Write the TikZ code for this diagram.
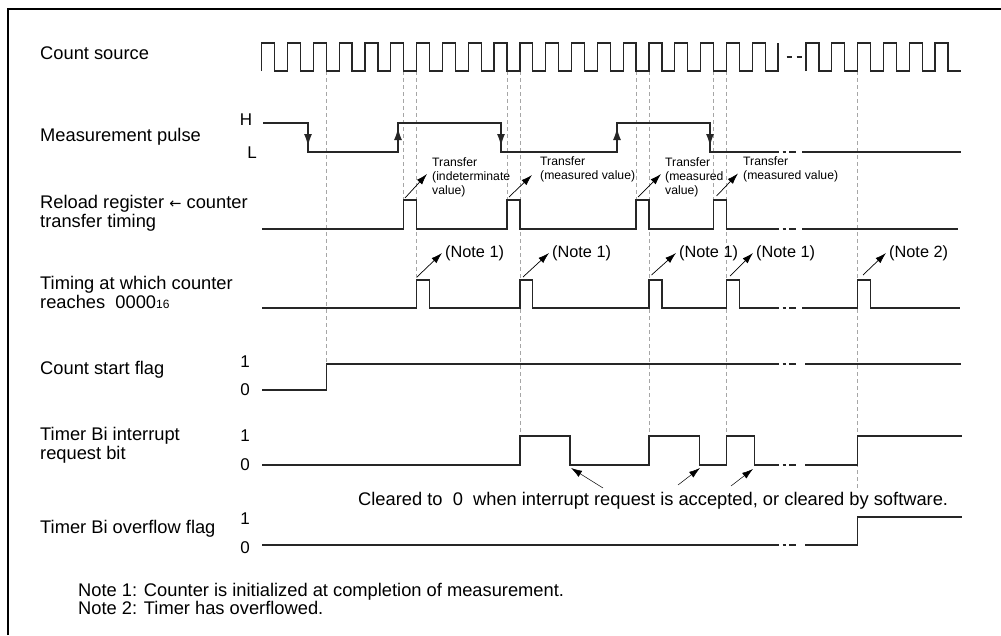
\documentclass[tikz,border=0pt]{standalone}
\usepackage{fontspec}
\setmainfont{Liberation Sans}
\newfontfamily\arrowfont{DejaVu Sans}
\usepackage{tikz}
\usetikzlibrary{arrows.meta,positioning,calc}

\begin{document}
\begin{tikzpicture}[
    x=1pt, y=-1pt,
    wave/.style={draw, line width=1.3pt, color=black!85},
    brk/.style={draw, line width=1.3pt, color=black!85, dash pattern=on 0pt off 3.5pt on 3pt off 3.5pt on 7pt off 12pt},
    guide/.style={draw, gray!70, line width=0.6pt, dash pattern=on 4pt off 3pt},
    edge/.style={draw, line width=1.3pt, color=black!85, -{Latex[length=12pt,width=8pt]}},
    line/.style={draw, line width=0.7pt, -{Latex[length=11pt,width=7pt]}},
    sig/.style={anchor=west, inner sep=0pt, align=left, font=\fontsize{18.3}{19}\selectfont},
    lvl/.style={inner sep=0pt, font=\fontsize{17}{17}\selectfont},
    tnote/.style={anchor=west, inner sep=0pt, align=left, font=\fontsize{12.2}{14}\selectfont},
    nnote/.style={anchor=west, inner sep=0pt, font=\fontsize{16.3}{16}\selectfont}
]
\useasboundingbox (0,0) rectangle (1001,635);
\draw[line width=2pt] (7.5,635) -- (7.5,9) -- (1001,9);

% signal names
\node[sig] (cs) at (40,53) {Count source};
\node[sig] (mp) at (40,137) {Measurement pulse};
\node[sig] (rr) at (40,213) {Reload register {\arrowfont\fontsize{14.5}{14.5}\selectfont ←} counter\\transfer timing};
\node[sig] (tz) at (40,292.5) {Timing at which counter\\reaches\ \ 0000{\fontsize{12}{12}\selectfont 16}};
\node[sig] (sf) at (40,370) {Count start flag};
\node[sig] (ir) at (40,445.5) {Timer Bi interrupt\\request bit};
\node[sig] (of) at (40,529) {Timer Bi overflow flag};

\node[lvl] (hi) at (246,120) {H};
\node[lvl] (lo) at (252,153) {L};
\node[lvl] (sf1) at (245,362) {1};
\node[lvl] (sf0) at (245,390) {0};
\node[lvl] (ir1) at (245,436) {1};
\node[lvl] (ir0) at (245,465) {0};
\node[lvl] (of1) at (245,519) {1};
\node[lvl] (of0) at (245,548) {0};

% timing guides
\foreach \x/\y in {326.25/364, 403.7/200, 416.6/280, 507/200, 519.9/436,
                   636.1/200, 649/436, 713.6/200, 726.5/436, 857.6/490}
    \draw[guide] (\x,71) -- (\x,\y);

% count source
\draw[wave] (261.7,71) \foreach \k in {1,...,20} {-- ++(0,-28) -- ++(12.91,0) -- ++(0,28) -- ++(12.91,0)} -- ++(0,-28);
\draw[line width=1.3pt, color=black!85, dash pattern=on 5pt off 5pt] (786.7,57) -- (801.7,57);
\draw[wave] (806,71) \foreach \k in {1,...,6} {-- ++(0,-28) -- ++(12.91,0) -- ++(0,28) -- ++(12.91,0)};

% measurement pulse
\draw[wave] (263,123) -- (308,123) -- (308,152) -- (398,152) -- (398,123) -- (501,123) -- (501,152)
    -- (617,152) -- (617,123) -- (710,123) -- (710,152) -- (779,152);
\draw[brk] (779,152) -- (802,152);
\draw[wave] (802,152) -- (961,152);
\draw[edge] (308,123) -- (308,146);
\draw[edge] (398,152) -- (398,128);
\draw[edge] (501,123) -- (501,146);
\draw[edge] (617,152) -- (617,128);
\draw[edge] (710,123) -- (710,146);

% reload register <- counter
\draw[wave] (262,229) \foreach \a/\b in {403.7/416.6, 507/519.9, 636.1/649, 713.6/726.5}
    {-- (\a,229) -- (\a,200) -- (\b,200) -- (\b,229)} -- (779,229);
\draw[brk] (779,229) -- (802,229);
\draw[wave] (802,229) -- (958,229);

% counter reaches 0000
\draw[wave] (262,308) \foreach \a/\b in {416.6/429.5, 519.9/532.8, 649/661.9, 726.5/739.4}
    {-- (\a,308) -- (\a,280) -- (\b,280) -- (\b,308)} -- (779,308);
\draw[brk] (779,308) -- (802,308);
\draw[wave] (802,308) -- (857.6,308) -- (857.6,280) -- (870.5,280) -- (870.5,308) -- (960,308);

% count start flag
\draw[wave] (262,390) -- (326.25,390) -- (326.25,364) -- (779,364);
\draw[brk] (779,364) -- (805,364);
\draw[wave] (805,364) -- (961,364);

% interrupt request bit
\draw[wave] (262,465) \foreach \a/\b in {519.9/570, 649/699.5, 726.5/754.5}
    {-- (\a,465) -- (\a,436) -- (\b,436) -- (\b,465)} -- (779,465);
\draw[brk] (779,465) -- (805,465);
\draw[wave] (805,465) -- (857.6,465) -- (857.6,436) -- (962,436);

% overflow flag
\draw[wave] (262,545) -- (779,545);
\draw[brk] (779,545) -- (805,545);
\draw[wave] (805,545) -- (857.6,545) -- (857.6,517) -- (962,517);

% transfer notes
\node[tnote] (tr1) at (432,177) {Transfer\\(indeterminate\\value)};
\node[tnote] (tr2) at (540,169) {Transfer\\(measured value)};
\node[tnote] (tr3) at (665,177) {Transfer\\(measured\\value)};
\node[tnote] (tr4) at (743,169.5) {Transfer\\(measured value)};
\coordinate (tp1) at (405,198);
\coordinate (tp2) at (509,197);
\coordinate (tp3) at (638,197);
\coordinate (tp4) at (716.5,196);
\draw[line] (tp1) -- ([xshift=-5pt,yshift=3pt]tr1.west);
\draw[line] (tp2) -- ([xshift=-8pt,yshift=-6pt]tr2.west);
\draw[line] (tp3) -- ([xshift=-4pt,yshift=3pt]tr3.west);
\draw[line] (tp4) -- ([xshift=-5pt,yshift=-4pt]tr4.west);

% zero notes
\node[nnote] (n1) at (445,253) {(Note 1)};
\node[nnote] (n2) at (552,253) {(Note 1)};
\node[nnote] (n3) at (679,253) {(Note 1)};
\node[nnote] (n4) at (756,253) {(Note 1)};
\node[nnote] (n5) at (889,253) {(Note 2)};
\coordinate (zp1) at (417,277);
\coordinate (zp2) at (523,277);
\coordinate (zp3) at (651.5,275);
\coordinate (zp4) at (730,276);
\coordinate (zp5) at (863,275);
\draw[line] (zp1) -- ([xshift=-3pt]n1.west);
\draw[line] (zp2) -- ([xshift=-3pt]n2.west);
\draw[line] (zp3) -- ([xshift=-3pt]n3.west);
\draw[line] (zp4) -- ([xshift=-3pt]n4.west);
\draw[line] (zp5) -- ([xshift=-3pt]n5.west);

% clearing
\node[sig] (clr) at (358,501) {Cleared to\ \ 0\ \ when interrupt request is accepted, or cleared by software.};
\coordinate (cl1) at (603,488);
\coordinate (cl2) at (678,485);
\coordinate (cl3) at (731,486);
\coordinate (ce1) at (571,468);
\coordinate (ce2) at (700,468);
\coordinate (ce3) at (753,469);
\draw[line, line width=0.5pt] (cl1) -- (ce1);
\draw[line, line width=0.5pt] (cl2) -- (ce2);
\draw[line, line width=0.5pt] (cl3) -- (ce3);

\node[sig, font=\fontsize{18.3}{17}\selectfont] (nt) at (78,598.5) {Note 1: Counter is initialized at completion of measurement.\\Note 2: Timer has overflowed.};
\end{tikzpicture}
\end{document}
